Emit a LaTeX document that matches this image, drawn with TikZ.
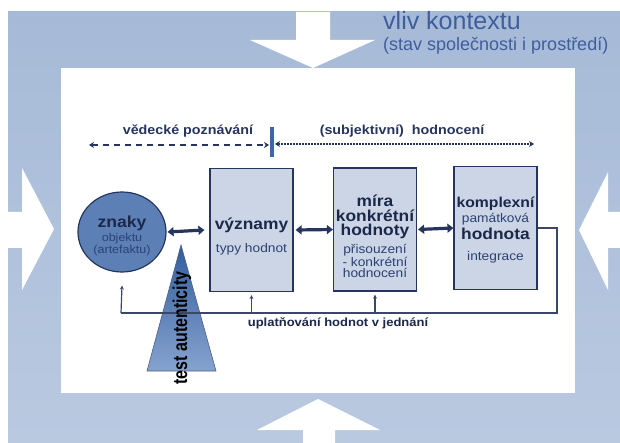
\documentclass[tikz,border=0pt]{standalone}
\usepackage{fontspec}
\setmainfont[FakeStretch=1.1]{Liberation Sans}
\newfontfamily\plainfont{Liberation Sans}
\newfontfamily\narrowfont[FakeStretch=0.8]{Liberation Sans}
\usetikzlibrary{arrows.meta, positioning, shapes.geometric}

\definecolor{navy}{HTML}{26355E}
\definecolor{headnavy}{HTML}{1C284A}
\definecolor{noteblue}{HTML}{2B4275}
\definecolor{boxfill}{HTML}{CCD5E5}
\definecolor{circfill}{HTML}{5C80B6}
\definecolor{titleblue}{HTML}{3E5E9C}
\definecolor{barblue}{HTML}{3D66AA}
\definecolor{loopgray}{HTML}{3A4766}
\definecolor{bgtop}{HTML}{A6BAD7}
\definecolor{bgmid}{HTML}{D3DCEA}
\definecolor{bgbottom}{HTML}{B9C9E0}
\definecolor{tritop}{HTML}{325D9E}
\definecolor{tribottom}{HTML}{86A3CF}

\newcommand{\headfont}{\bfseries\fontsize{15.8}{15}\selectfont}
\newcommand{\notefont}{\fontsize{12.5}{11.5}\selectfont}

\begin{document}
\begin{tikzpicture}[x=1pt, y=-1pt,
    % value boxes
    valbox/.style={draw=navy, line width=1.2pt, fill=boxfill, minimum width=83pt, minimum height=123pt,
        inner sep=0pt, align=center, text=noteblue, font=\notefont},
    % circle with the signs
    signnode/.style={ellipse, draw=navy, line width=1.2pt, fill=circfill, minimum width=88pt, minimum height=80pt,
        inner sep=0pt, align=center, text=noteblue, font=\fontsize{11.4}{10.5}\selectfont},
    % connectors
    dblarrow/.style={{Triangle[length=6pt, width=9pt]}-{Triangle[length=6pt, width=9pt]}, line width=3.2pt, navy},
    dashline/.style={{Stealth[length=5pt, width=6pt]}-{Stealth[length=5pt, width=6pt]}, line width=2.2pt, navy},
    loopline/.style={line width=1.2pt, draw=loopgray},
    looptip/.style={loopline, -{Stealth[length=4pt, width=4pt]}},
    % labels
    scilabel/.style={font=\bfseries\fontsize{13}{13}\selectfont, text=navy, inner sep=0pt},
    titlelabel/.style={text=titleblue, inner sep=0pt, anchor=base west},
    arrowshape/.style={fill=white}
]
\useasboundingbox (0,0) rectangle (620,443);

% background
\fill[white] (0,0) rectangle (620,443);
\shade[top color=bgtop, middle color=bgmid, bottom color=bgbottom] (8,12) rectangle (620,443);
\fill[white] (61,68) rectangle (575,393);

% context arrows
\fill[arrowshape] (296,12) -- (330,12) -- (330,40) -- (375,40) -- (313,68) -- (250,40) -- (296,40) -- cycle;
\fill[arrowshape] (303,443) -- (303,430) -- (257,430) -- (318,399) -- (380,430) -- (335,430) -- (335,443) -- cycle;
\fill[arrowshape] (8,212) -- (22,212) -- (22,168) -- (54,229) -- (22,290) -- (22,248) -- (8,248) -- cycle;
\fill[arrowshape] (620,212) -- (608,212) -- (608,172) -- (579,230) -- (608,290) -- (608,248) -- (620,248) -- cycle;

\node[titlelabel, font=\plainfont\fontsize{25}{25}\selectfont] (vliv) at (383,30) {vliv kontextu};
\node[titlelabel, font=\plainfont\fontsize{18}{18}\selectfont] (stav) at (383,51) {(stav společnosti i prostředí)};

% knowing vs. evaluating
\node[fill=barblue, minimum width=3.5pt, minimum height=30pt, inner sep=0pt] (divider) at (272,142) {};
\coordinate (sciend) at (89,145);
\coordinate (evalend) at (534,144);
\draw[dashline, dash pattern=on 6pt off 5pt] (sciend) -- ([xshift=-1pt]divider.west |- sciend);
\draw[dashline, dash pattern=on 2pt off 1pt] ([xshift=1pt]divider.east |- evalend) -- (evalend);
\node[scilabel] (scilbl) at (188,131) {vědecké poznávání};
\node[scilabel] (evallbl) at (402,131) {(subjektivní)\ \ hodnocení};

% test of authenticity
\shade[top color=tritop, bottom color=tribottom, draw=navy!80, line width=0.6pt]
    (181,245) -- (216,371) -- (147,371) -- cycle;

% value chain
\node[signnode] (znaky) at (122,232)
    {{\bfseries\fontsize{16}{15}\selectfont\color{headnavy}\rule{0pt}{19pt}znaky}\\[2pt]objektu\\(artefaktu)};
\node[valbox] (vyznamy) at (251.5,230)
    {{\headfont\color{headnavy}\rule{0pt}{24pt}významy}\\[10pt]typy hodnot};
\node[valbox] (mira) at (375,229.5)
    {{\headfont\color{headnavy}\rule{0pt}{25pt}míra}\\[2pt]{\headfont\color{headnavy}konkrétní}\\[2pt]{\headfont\color{headnavy}hodnoty}\\[4pt]%
     přisouzení\\- konkrétní\\hodnocení};
\node[valbox] (kompl) at (495.5,228)
    {{\bfseries\fontsize{14.3}{14}\selectfont\color{headnavy}\rule{0pt}{14pt}komplexní}\\[2pt]památková\\[2pt]%
     {\headfont\color{headnavy}hodnota}\\[9pt]integrace};

\draw[dblarrow] ([xshift=1pt]znaky.east) -- ([xshift=-5pt]vyznamy.west);
\draw[dblarrow] ([xshift=2pt]vyznamy.east) -- (mira.west);
\draw[dblarrow] ([xshift=1pt]mira.east) -- (kompl.west);

% feedback: applying values in action
\coordinate (loopcorner) at (557,313);
\coordinate (loopend) at (121,313);
\draw[loopline] (kompl.east) -| (loopcorner) -- (loopend);
\draw[looptip] (loopend) -- ([yshift=-13pt]znaky.south);
\draw[looptip] (vyznamy.south |- loopend) -- ([yshift=-3pt]vyznamy.south);
\draw[looptip] (mira.south |- loopend) -- ([yshift=-3pt]mira.south);
\node[font=\bfseries\fontsize{11.8}{12}\selectfont, text=headnavy, inner sep=0pt] (uplat) at (338,323)
    {uplatňování hodnot v jednání};

\node[rotate=90, font=\narrowfont\bfseries\fontsize{20}{20}\selectfont, inner sep=0pt] (test) at (182,328)
    {test autenticity};

\end{tikzpicture}
\end{document}
